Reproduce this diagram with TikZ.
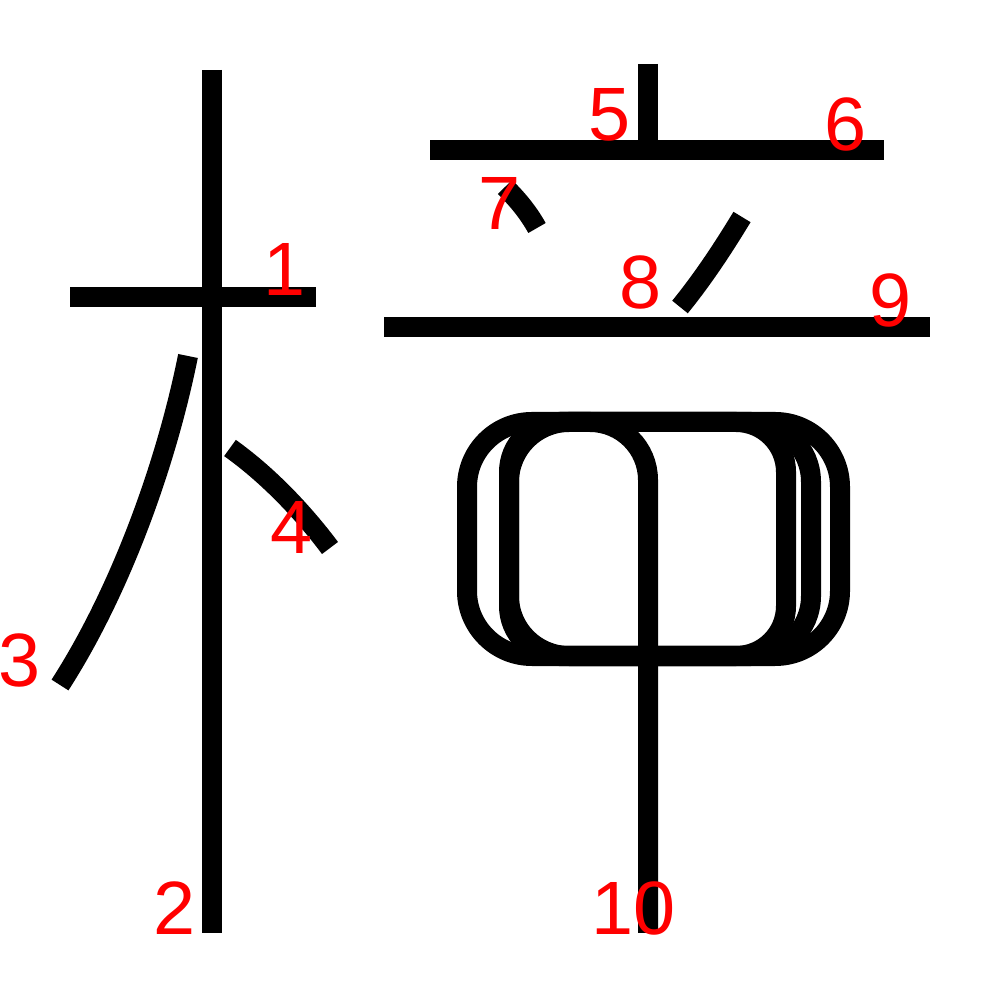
\documentclass[tikz,border=0pt]{standalone}
\usepackage{fontspec}
\setmainfont{Liberation Sans}
\usepackage{tikz}
\usepackage{xcolor}
\usetikzlibrary{positioning,calc}
\definecolor{numred}{RGB}{255,0,0}

\begin{document}
\begin{tikzpicture}[x=0.01cm,y=0.01cm,kstroke/.style={line width=0.2cm,line cap=butt},num/.style={text=numred,font=\fontsize{21.5}{25}\selectfont,inner sep=0pt}]
\useasboundingbox (0,0) rectangle (1000,1000);
% left part
\draw[kstroke] (70,703) -- (316,703);
\draw[kstroke] (212,930) -- (212,67);
\draw[kstroke] (188,644) .. controls (165,530) and (118,405) .. (60,315);
\draw[kstroke] (230,552) .. controls (265,527) and (300,492) .. (330,452);
% right part, top
\draw[kstroke] (648,936) -- (648,850);
\draw[kstroke] (430,850) -- (884,850);
\draw[kstroke] (505,813) .. controls (518,800) and (528,788) .. (537,772);
\draw[kstroke] (742,783) .. controls (722,750) and (702,720) .. (680,693);
\draw[kstroke] (384,673) -- (930,673);
% boxes
\draw[kstroke,rounded corners=0.65cm] (467,344) rectangle (840,578);
\draw[kstroke,rounded corners=0.6cm] (509,344) rectangle (811,578);
\draw[kstroke,rounded corners=0.5cm] (509,344) rectangle (786,578);
\draw[kstroke] (648,67) -- (648,520) arc[start angle=0,end angle=90,radius=58] -- (560,578);
% stroke numbers
\foreach \n/\px/\py in {1/285/730,2/175/92,3/20/340,4/292/473,5/610/885,6/846/876,7/500/796,8/641/718,9/891/700,10/634/92}{\node[num] (l\n) at (\px,\py) {\n};}
\end{tikzpicture}
\end{document}
